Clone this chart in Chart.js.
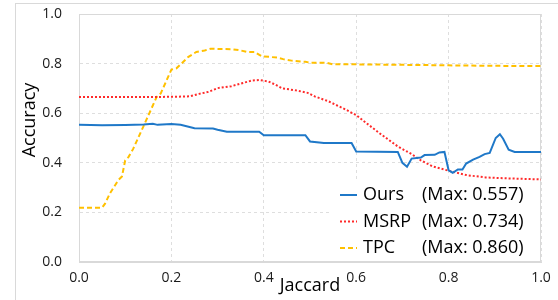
<!DOCTYPE html>
<html>
<head>
<meta charset="utf-8">
<script src="https://cdn.jsdelivr.net/npm/chart.js@4.4.1/dist/chart.umd.min.js"></script>
<style>
  html, body { margin: 0; padding: 0; background: #fff; overflow: hidden; }
  #wrap { position: relative; width: 558px; height: 300px; }
  #frame { position: absolute; left: 15px; top: 3px; width: 700px; height: 500px; border: 1px solid #d9d9d9; }
  #chart { position: absolute; left: 0; top: 0; }
</style>
</head>
<body>
<div id="wrap">
  <div id="frame"></div>
  <canvas id="chart" width="558" height="300"></canvas>
</div>
<script>
// Series data (x = Jaccard, y = Accuracy)
const seriesNames = ['Ours', 'MSRP', 'TPC'];

const oursX = [0, 0.05, 0.10, 0.14, 0.16, 0.17, 0.20, 0.22, 0.235, 0.25, 0.29, 0.30, 0.32, 0.39, 0.40, 0.49, 0.50, 0.53, 0.59, 0.60,
               0.69, 0.70, 0.71, 0.72, 0.74, 0.748, 0.77, 0.78, 0.791, 0.80, 0.809, 0.82, 0.83, 0.838, 0.853, 0.867, 0.878, 0.889,
               0.902, 0.911, 0.918, 0.93, 0.943, 1.0];
const oursY = [0.553, 0.551, 0.552, 0.554, 0.557, 0.553, 0.556, 0.553, 0.546, 0.539, 0.538, 0.533, 0.525, 0.525, 0.511, 0.511, 0.486, 0.480, 0.480, 0.446,
               0.444, 0.400, 0.384, 0.417, 0.421, 0.431, 0.432, 0.442, 0.444, 0.370, 0.360, 0.373, 0.373, 0.397, 0.413, 0.424, 0.435, 0.440,
               0.500, 0.515, 0.497, 0.453, 0.444, 0.444];

const msrpX = [0, 0.10, 0.20, 0.24, 0.26, 0.28, 0.30, 0.33, 0.355, 0.375, 0.39, 0.41, 0.425, 0.44, 0.47, 0.495, 0.51, 0.54, 0.58, 0.60,
               0.62, 0.65, 0.69, 0.72, 0.74, 0.765, 0.80, 0.84, 0.88, 0.93, 1.0];
const msrpY = [0.665, 0.665, 0.666, 0.668, 0.678, 0.686, 0.701, 0.709, 0.722, 0.732, 0.734, 0.728, 0.715, 0.700, 0.692, 0.682, 0.668, 0.648, 0.612, 0.592,
               0.563, 0.520, 0.466, 0.435, 0.410, 0.386, 0.368, 0.350, 0.341, 0.337, 0.333];

const tpcX = [0, 0.05, 0.056, 0.067, 0.085, 0.093, 0.10, 0.107, 0.117, 0.139, 0.168, 0.177, 0.20, 0.211, 0.236, 0.254, 0.272, 0.285, 0.33, 0.348,
              0.363, 0.38, 0.395, 0.43, 0.442, 0.46, 0.49, 0.50, 0.536, 0.55, 0.60, 0.70, 0.80, 0.90, 1.0];
const tpcY = [0.219, 0.219, 0.234, 0.277, 0.330, 0.345, 0.410, 0.423, 0.455, 0.545, 0.665, 0.680, 0.776, 0.781, 0.826, 0.847, 0.853, 0.860, 0.858, 0.854,
              0.847, 0.847, 0.830, 0.824, 0.818, 0.812, 0.807, 0.804, 0.803, 0.797, 0.797, 0.795, 0.793, 0.791, 0.790];

const toPoints = (xs, ys) => xs.map((x, i) => ({ x: x, y: ys[i] }));
const maxLabel = ys => '(Max: ' + Math.max(...ys).toFixed(3) + ')';

Chart.defaults.font.family = "'Open Sans', sans-serif";

// frame of the plot area + white box behind the legend
const areaPlugin = {
    id: 'areaPlugin',
    beforeDatasetsDraw(chart) {
        const { ctx, chartArea: a } = chart;
        ctx.save();
        ctx.fillStyle = '#fff';
        ctx.fillRect(330, 182, a.right - 331, a.bottom - 183);
        ctx.strokeStyle = '#d9d9d9';
        ctx.lineWidth = 1;
        ctx.strokeRect(a.left + 0.5, a.top + 0.5, a.right - a.left - 1, a.bottom - a.top - 1);
        ctx.restore();
    }
};

// axis titles and legend
const textPlugin = {
    id: 'textPlugin',
    afterDraw(chart) {
        const ctx = chart.ctx;
        ctx.save();
        ctx.fillStyle = '#000';
        ctx.font = "18px 'Open Sans', sans-serif";
        ctx.textAlign = 'center';
        ctx.textBaseline = 'middle';
        ctx.fillText('Jaccard', 310, 286);
        ctx.save();
        ctx.translate(30, 120);
        ctx.rotate(-Math.PI / 2);
        ctx.fillText('Accuracy', 0, 0);
        ctx.restore();

        const rows = [195, 221.5, 248];
        const maxTexts = [maxLabel(oursY), maxLabel(msrpY), maxLabel(tpcY)];
        chart.data.datasets.forEach((ds, i) => {
            const y = rows[i];
            ctx.save();
            ctx.strokeStyle = ds.borderColor;
            ctx.lineWidth = ds.borderWidth;
            ctx.setLineDash(ds.borderDash || []);
            ctx.beginPath();
            ctx.moveTo(340, y);
            ctx.lineTo(357, y);
            ctx.stroke();
            ctx.restore();
            ctx.textAlign = 'left';
            ctx.fillText(seriesNames[i], 363, y);
            ctx.fillText(maxTexts[i], 422, y);
        });
        ctx.restore();
    }
};

const axisCommon = {
    type: 'linear',
    min: 0,
    max: 1,
    grid: { color: '#dedede', lineWidth: 1, drawTicks: false },
    border: { display: true, color: '#d9d9d9', dash: [3, 3] }
};

const ctx = document.getElementById('chart').getContext('2d');
const chart = new Chart(ctx, {
    type: 'line',
    data: {
        datasets: [{
            label: seriesNames[0],
            data: toPoints(oursX, oursY),
            borderColor: '#1f78c8',
            borderWidth: 2,
            pointRadius: 0,
            tension: 0
        }, {
            label: seriesNames[1],
            data: toPoints(msrpX, msrpY),
            borderColor: '#ff2a2a',
            borderWidth: 2,
            borderDash: [2, 2],
            pointRadius: 0,
            tension: 0
        }, {
            label: seriesNames[2],
            data: toPoints(tpcX, tpcY),
            borderColor: '#ffc000',
            borderWidth: 2,
            borderDash: [5, 3],
            pointRadius: 0,
            tension: 0
        }]
    },
    options: {
        responsive: false,
        animation: false,
        devicePixelRatio: 1,
        layout: { padding: { left: 0, right: 17, top: 14, bottom: 0 } },
        plugins: {
            legend: { display: false },
            tooltip: { enabled: false }
        },
        scales: {
            x: Object.assign({}, axisCommon, {
                ticks: {
                    stepSize: 0.2,
                    padding: 8,
                    color: '#1a1a1a',
                    font: { size: 14 },
                    callback: v => v.toFixed(1)
                },
                afterFit: s => { s.height = 38; s.paddingLeft = 0; s.paddingRight = 0; }
            }),
            y: Object.assign({}, axisCommon, {
                ticks: {
                    stepSize: 0.2,
                    padding: 17,
                    color: '#1a1a1a',
                    font: { size: 14 },
                    callback: v => v.toFixed(1)
                },
                afterFit: s => { s.width = 79; s.paddingTop = 0; s.paddingBottom = 0; }
            })
        }
    },
    plugins: [areaPlugin, textPlugin]
});
</script>
</body>
</html>
